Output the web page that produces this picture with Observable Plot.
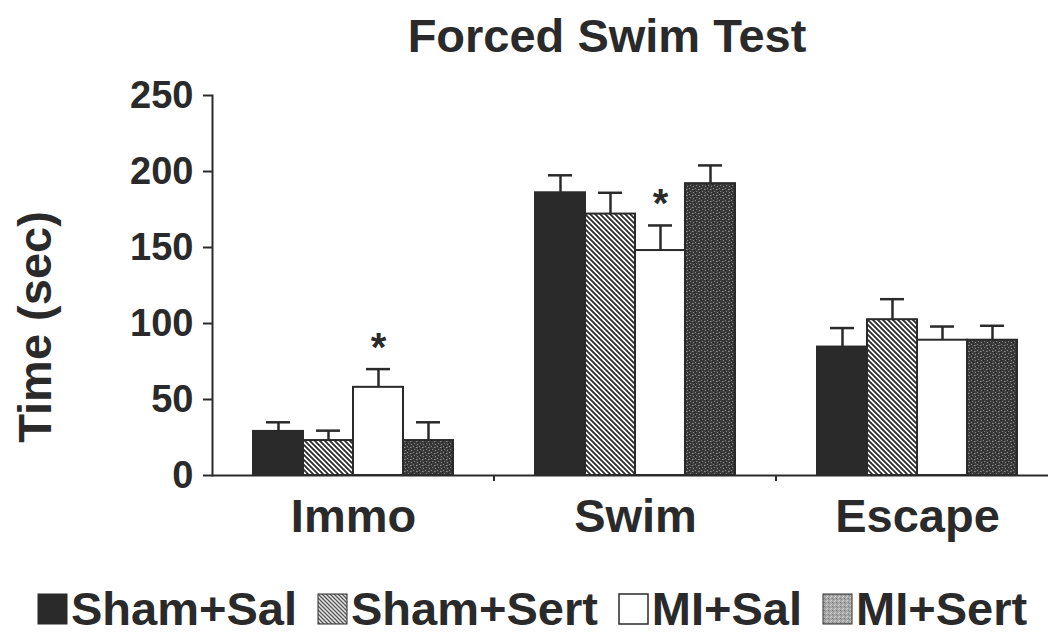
<!DOCTYPE html>
<html><head><meta charset="utf-8">
<script src="https://cdn.jsdelivr.net/npm/d3@7"></script>
<script src="https://cdn.jsdelivr.net/npm/@observablehq/plot@0.6"></script>
<style>
body{margin:0;width:1048px;height:635px;overflow:hidden;background:#fff;position:relative;font-family:"Liberation Sans",Arial,Helvetica,sans-serif;color:#2a2a2a}
#title{position:absolute;top:13px;left:0;width:1048px;padding-left:166px;box-sizing:border-box;text-align:center;font-weight:bold;font-size:47px;line-height:46px;white-space:nowrap}
#ylabel{position:absolute;z-index:2;left:35px;top:327px;transform:translate(-50%,-50%) rotate(-90deg);font-weight:bold;font-size:47px;line-height:46px;white-space:nowrap}
#chart{position:absolute;z-index:1;left:0;top:80px}
#legend{position:absolute;left:37px;top:586px;display:flex;gap:20px;font-weight:bold;font-size:47px;line-height:46px;white-space:nowrap}
.item svg{display:inline-block;vertical-align:baseline;margin-right:3px}
</style></head><body>
<svg width="0" height="0" style="position:absolute">
<defs>
<pattern id="hatch" patternUnits="userSpaceOnUse" width="5" height="5">
 <rect width="5" height="5" fill="#fff"/>
 <path d="M-1,-1L6,6M-1,4L1,6M4,-1L6,1" stroke="#2a2a2a" stroke-width="1.8"/>
</pattern>
<pattern id="stipple" patternUnits="userSpaceOnUse" width="6" height="6">
 <rect width="6" height="6" fill="#3c3c3c"/>
 <rect x="0" y="0" width="1" height="1" fill="#8a8a8a"/>
 <rect x="3" y="1" width="1" height="1" fill="#909090"/>
 <rect x="1" y="3" width="1" height="1" fill="#7c7c7c"/>
 <rect x="4" y="4" width="1" height="1" fill="#8a8a8a"/>
 <rect x="5" y="2" width="1" height="1" fill="#222"/>
 <rect x="2" y="0" width="1" height="1" fill="#222"/>
 <rect x="0" y="4" width="1" height="1" fill="#222"/>
 <rect x="4" y="1" width="1" height="1" fill="#666"/>
</pattern>
<pattern id="hatchL" patternUnits="userSpaceOnUse" width="4" height="4">
 <rect width="4" height="4" fill="#e8e8e8"/>
 <path d="M-1,-1L5,5M-1,3L1,5M3,-1L5,1" stroke="#555" stroke-width="1.3"/>
</pattern>
<pattern id="stippleL" patternUnits="userSpaceOnUse" width="4" height="4">
 <rect width="4" height="4" fill="#a8a8a8"/>
 <rect x="0" y="0" width="1" height="1" fill="#d0d0d0"/>
 <rect x="2" y="1" width="1" height="1" fill="#7a7a7a"/>
 <rect x="1" y="3" width="1" height="1" fill="#cfcfcf"/>
 <rect x="3" y="2" width="1" height="1" fill="#888"/>
</pattern>
</defs>
</svg>
<div id="title">Forced Swim Test</div>
<div id="chart"></div>
<div id="ylabel">Time (sec)</div>
<div id="legend"></div>
<script>
const groups = ["Immo", "Swim", "Escape"];
const series = ["Sham+Sal", "Sham+Sert", "MI+Sal", "MI+Sert"];
const immoMean   = [29, 23, 58, 23];
const immoSem    = [6, 6.5, 12, 12];
const swimMean   = [186, 172, 148, 192];
const swimSem    = [11.5, 14, 16.5, 12];
const escapeMean = [84.5, 102.5, 89, 89];
const escapeSem  = [12.5, 13.5, 9, 9.5];
const significant = [["Immo", "MI+Sal"], ["Swim", "MI+Sal"]];
const yTicks = [0, 50, 100, 150, 200, 250];

const ink = "#2a2a2a";
const fills = [ink, "url(#hatch)", "#ffffff", "url(#stipple)"];
const legendFills = [ink, "url(#hatchL)", "#ffffff", "url(#stippleL)"];

const means = [immoMean, swimMean, escapeMean];
const sems = [immoSem, swimSem, escapeSem];
const rows = [];
groups.forEach((g, gi) => series.forEach((s, si) => rows.push({
  group: g, series: s, value: means[gi][si], sem: sems[gi][si],
  sig: significant.some(([a, b]) => a === g && b === s)
})));

const plot = Plot.plot({
  width: 1048, height: 470,
  marginTop: 15, marginBottom: 75, marginLeft: 213, marginRight: 0,
  style: {fontFamily: '"Liberation Sans", Arial, Helvetica, sans-serif', fontSize: "38px", fontWeight: "bold", color: ink, background: "transparent", overflow: "visible", strokeWidth: "2px"},
  fx: {domain: groups, range: [211, 1058], padding: 0, axis: null, label: null},
  x: {domain: series, paddingInner: 0, paddingOuter: 0.79, axis: null},
  y: {domain: [0, 250], ticks: yTicks, tickSize: 9, tickPadding: 10, label: null, line: true},
  color: {domain: series, range: fills},
  marks: [
    Plot.barY(rows, {fx: "group", x: "series", y: "value", fill: "series", stroke: ink, strokeWidth: 2}),
    Plot.ruleX(rows, {fx: "group", x: "series", y1: "value", y2: d => d.value + d.sem, stroke: ink, strokeWidth: 2.5}),
    Plot.tickY(rows, {fx: "group", x: "series", y: d => d.value + d.sem, insetLeft: 13, insetRight: 13, stroke: ink, strokeWidth: 2.5}),
    Plot.text(rows.filter(d => d.sig), {fx: "group", x: "series", y: d => d.value + d.sem, text: () => "*", dy: -21, fontSize: 40, fill: ink}),
    Plot.text(groups, {fx: d => d, text: d => d, frameAnchor: "bottom", lineAnchor: "top", dy: 23, fontSize: 47, fill: ink}),
    Plot.ruleY([0], {stroke: ink, strokeWidth: 2})
  ]
});
document.getElementById("chart").appendChild(plot);

// small boundary ticks between the groups on the category axis
try {
  const fxs = plot.scale("fx"), ys = plot.scale("y");
  const y0 = ys.apply(0);
  d3.select(plot).append("g")
    .selectAll("line").data(groups.slice(1)).join("line")
    .attr("x1", g => fxs.apply(g)).attr("x2", g => fxs.apply(g))
    .attr("y1", y0).attr("y2", y0 + 6)
    .attr("stroke", ink).attr("stroke-width", 2);
} catch (e) {}

const legend = d3.select("#legend");
series.forEach((s, i) => {
  const item = legend.append("span").attr("class", "item");
  const sw = item.append("svg").attr("width", 31).attr("height", 32);
  sw.append("rect").attr("x", 1).attr("y", 1).attr("width", 29).attr("height", 30)
    .attr("fill", legendFills[i]).attr("stroke", ink).attr("stroke-width", i === 2 ? 1.5 : 1);
  item.append("span").text(s);
});
</script>
</body></html>
